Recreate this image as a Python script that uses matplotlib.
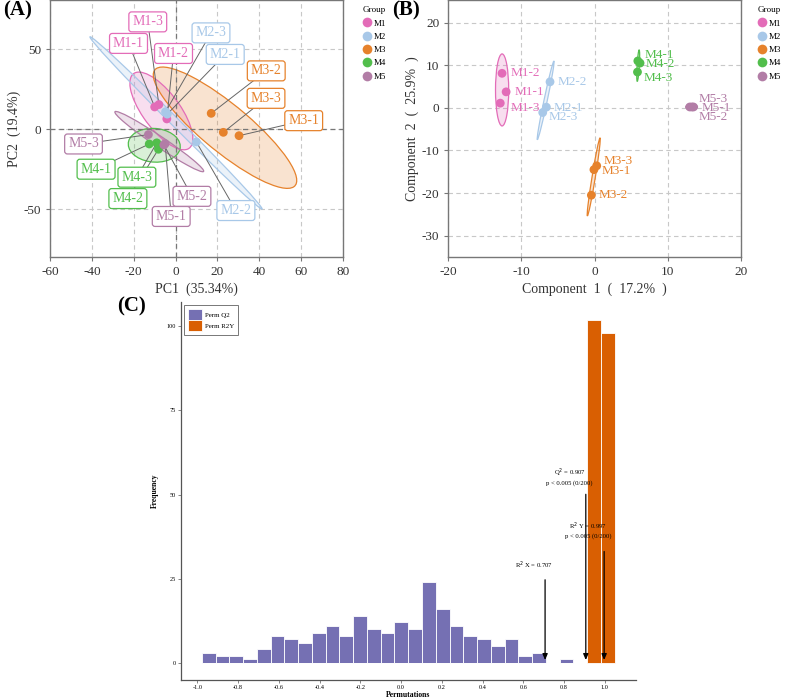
import numpy as np
import matplotlib
matplotlib.use("Agg")
import matplotlib.pyplot as plt
from matplotlib.patches import Ellipse
from matplotlib.lines import Line2D

plt.rcParams['font.family'] = ['Liberation Serif', 'DejaVu Serif']
plt.rcParams['axes.unicode_minus'] = False

groups = ['M1', 'M2', 'M3', 'M4', 'M5']
colors = ['#E36CB8', '#A8C8E8', '#E6822C', '#52BE4C', '#B27DA6']

# ---- panel A: PCA ----
pca_names = ['M1-1', 'M1-2', 'M1-3', 'M2-1', 'M2-2', 'M2-3', 'M3-1', 'M3-2', 'M3-3',
             'M4-1', 'M4-2', 'M4-3', 'M5-1', 'M5-2', 'M5-3']
pca_x = [-10.0, -4.2, -8.0, -4.0, 9.9, -4.8, 30.3, 17.0, 22.8,
         -12.6, -8.2, -9.0, -5.0, -5.6, -13.0]
pca_y = [14.0, 6.5, 15.5, 9.5, -7.9, 11.0, -4.0, 10.0, -1.9,
         -9.2, -12.5, -8.5, -9.0, -9.8, -3.3]
pca_lab_x = [-22.5, -1.0, -13.3, 23.7, 28.8, 16.9, 61.2, 43.3, 43.2,
             -38.0, -22.8, -18.5, -2.1, 7.8, -44.0]
pca_lab_y = [53.8, 47.5, 67.3, 46.9, -50.9, 60.4, 5.4, 36.6, 19.4,
             -25.0, -43.4, -30.0, -54.6, -42.0, -9.2]
# ellipse: centre x, centre y, major, minor, angle (data units)
pca_ell_cx = [-6.8, 0.2, 23.6, -10.2, -7.8]
pca_ell_cy = [11.5, 4.0, 1.0, -10.0, -7.7]
pca_ell_w = [54.0, 135.6, 99.0, 25.0, 56.5]
pca_ell_h = [19.0, 4.5, 26.0, 21.0, 6.0]
pca_ell_a = [-62.5, -52.7, -48.4, -12.0, -41.6]

# ---- panel B: PLS-DA ----
pls_x = [-12.1, -12.66, -12.9, -6.6, -6.1, -7.1, -0.1, -0.45, 0.28,
         5.9, 6.2, 5.85, 13.3, 13.5, 13.0]
pls_y = [3.75, 8.1, 1.1, 0.16, 6.1, -1.1, -14.5, -20.5, -13.6,
         11.0, 10.5, 8.4, 0.2, 0.2, 0.2]
pls_lab_x = [-11.0, -11.5, -11.5, -5.6, -5.1, -6.3, 0.9, 0.6, 1.25,
             6.8, 7.0, 6.65, 14.6, 14.2, 14.2]
pls_lab_y = [3.75, 8.1, 0.0, 0.0, 6.1, -2.2, -14.9, -20.5, -12.4,
             12.4, 10.2, 6.9, 0.0, -2.1, 2.1]
pls_ell_cx = [-12.65, -6.7, -0.13, 5.95, 13.25]
pls_ell_cy = [4.2, 1.75, -16.2, 9.9, 0.2]
pls_ell_w = [16.9, 18.6, 18.4, 7.4, 1.6]
pls_ell_h = [1.8, 0.45, 0.45, 0.3, 1.4]
pls_ell_a = [90.0, 83.0, 84.6, 88.0, 0.0]

# ---- panel C: permutation test ----
q2_counts = [3, 2, 2, 1, 4, 8, 7, 6, 9, 11, 8, 14, 10, 9, 12,
             10, 24, 16, 11, 8, 7, 5, 7, 2, 3, 0, 1, 0, 0, 0]
r2y_counts = [0] * 28 + [102, 98]
hist_lo, hist_hi = -0.979, 1.049
r2x_val, q2_val, r2y_val = 0.707, 0.907, 0.997

fig = plt.figure(figsize=(7.89, 6.98), dpi=100)


def group_of(name):
    return groups.index(name.split('-')[0])


def style_pc(ax):
    ax.grid(True, color='#c8c8c8', linestyle=(0, (4, 3)), linewidth=0.8)
    ax.set_axisbelow(True)
    for s in ax.spines.values():
        s.set_color('#777777')
        s.set_linewidth(1.0)
    ax.tick_params(colors='#333333', labelsize=9.5, length=3, color='#777777')


# Panel A
axA = fig.add_axes([0.0634, 0.6318, 0.3714, 0.3682])
style_pc(axA)
for i, g in enumerate(groups):
    axA.add_patch(Ellipse((pca_ell_cx[i], pca_ell_cy[i]), pca_ell_w[i], pca_ell_h[i],
                          angle=pca_ell_a[i], facecolor=colors[i], alpha=0.22,
                          edgecolor='none', zorder=1))
    axA.add_patch(Ellipse((pca_ell_cx[i], pca_ell_cy[i]), pca_ell_w[i], pca_ell_h[i],
                          angle=pca_ell_a[i], facecolor='none', edgecolor=colors[i],
                          linewidth=0.9, zorder=1.1))
axA.axhline(0, color='#777777', linestyle=(0, (4, 3)), linewidth=0.9, zorder=1.5)
axA.axvline(0, color='#777777', linestyle=(0, (4, 3)), linewidth=0.9, zorder=1.5)
for n, x, y, lx, ly in zip(pca_names, pca_x, pca_y, pca_lab_x, pca_lab_y):
    c = colors[group_of(n)]
    axA.plot([x, lx], [y, ly], color='#666666', linewidth=0.7, zorder=2)
    axA.scatter([x], [y], s=40, color=c, zorder=3, edgecolor='none')
    axA.text(lx, ly, n, color=c, fontsize=10, ha='center', va='center', zorder=4,
             bbox=dict(boxstyle='round,pad=0.25,rounding_size=0.2', facecolor='white',
                       edgecolor=c, linewidth=0.9))
axA.set_xlim(-60, 80)
axA.set_ylim(-80, 81)
axA.set_xticks([-60, -40, -20, 0, 20, 40, 60, 80])
axA.set_yticks([-50, 0, 50])
axA.set_xlabel('PC1  (35.34%)', fontsize=10, color='#333333', labelpad=3)
axA.set_ylabel('PC2  (19.4%)', fontsize=10, color='#333333', labelpad=2)

# Panel B
axB = fig.add_axes([0.5682, 0.6318, 0.371, 0.3682])
style_pc(axB)
for i, g in enumerate(groups):
    axB.add_patch(Ellipse((pls_ell_cx[i], pls_ell_cy[i]), pls_ell_w[i], pls_ell_h[i],
                          angle=pls_ell_a[i], facecolor=colors[i], alpha=0.22,
                          edgecolor='none', zorder=1))
    axB.add_patch(Ellipse((pls_ell_cx[i], pls_ell_cy[i]), pls_ell_w[i], pls_ell_h[i],
                          angle=pls_ell_a[i], facecolor='none', edgecolor=colors[i],
                          linewidth=0.9, zorder=1.1))
for n, x, y, lx, ly in zip(pca_names, pls_x, pls_y, pls_lab_x, pls_lab_y):
    c = colors[group_of(n)]
    axB.scatter([x], [y], s=40, color=c, zorder=3, edgecolor='none')
    axB.text(lx, ly, n, color=c, fontsize=9.5, ha='left', va='center', zorder=4)
axB.set_xlim(-20, 20)
axB.set_ylim(-35, 25.3)
axB.set_xticks([-20, -10, 0, 10, 20])
axB.set_yticks([-30, -20, -10, 0, 10, 20])
axB.set_xlabel('Component  1  (  17.2%  )', fontsize=10, color='#333333', labelpad=3)
axB.set_ylabel('Component  2  (  25.9%  )', fontsize=10, color='#333333', labelpad=2)

# group legends
handles = [Line2D([], [], marker='o', linestyle='none', markersize=7,
                  markerfacecolor=c, markeredgecolor='none', label=g)
           for g, c in zip(groups, colors)]
for x0 in (0.452, 0.952):
    lg = fig.legend(handles=handles, title='Group', loc='upper left',
                    bbox_to_anchor=(x0, 1.0), frameon=False, fontsize=6.5,
                    title_fontsize=6.5, handletextpad=0.2, labelspacing=0.55,
                    handlelength=1.0, borderpad=0.2)
    lg._legend_box.align = 'left'

# Panel C
axC = fig.add_axes([0.2294, 0.0258, 0.5763, 0.5415])
edges = np.linspace(hist_lo, hist_hi, len(q2_counts) + 1)
lefts = edges[:-1]
wid = edges[1] - edges[0]
axC.bar(lefts, q2_counts, width=wid, align='edge', color='#7570B3',
        edgecolor='white', linewidth=0.6, label='Perm Q2')
axC.bar(lefts, r2y_counts, width=wid, align='edge', color='#D95F02',
        edgecolor='white', linewidth=0.6, label='Perm R2Y')
arr = dict(arrowstyle='-|>,head_length=0.35,head_width=0.15', color='black', linewidth=0.9)
axC.annotate('', xy=(r2x_val, 0), xytext=(r2x_val, 25.5), arrowprops=arr)
axC.annotate('', xy=(q2_val, 0), xytext=(q2_val, 50.9), arrowprops=arr)
axC.annotate('', xy=(r2y_val, 0), xytext=(r2y_val, 33.9), arrowprops=arr)
axC.text(0.652, 28.9, 'R$^2$ X = 0.707', fontsize=4.8, ha='center', va='center')
axC.text(0.828, 56.4, 'Q$^2$ = 0.907', fontsize=4.8, ha='center', va='center')
axC.text(0.828, 53.5, 'p < 0.005 (0/200)', fontsize=4.8, ha='center', va='center')
axC.text(0.918, 40.5, 'R$^2$ Y = 0.997', fontsize=4.8, ha='center', va='center')
axC.text(0.918, 37.6, 'p < 0.005 (0/200)', fontsize=4.8, ha='center', va='center')
axC.set_xlim(-1.081, 1.152)
axC.set_ylim(-5.1, 107.2)
axC.set_xticks([-1.0, -0.8, -0.6, -0.4, -0.2, 0.0, 0.2, 0.4, 0.6, 0.8, 1.0])
axC.set_yticks([0, 25, 50, 75, 100])
for s in ('top', 'right'):
    axC.spines[s].set_visible(False)
for s in ('left', 'bottom'):
    axC.spines[s].set_color('#555555')
    axC.spines[s].set_linewidth(0.9)
axC.tick_params(labelsize=4.5, length=2, width=0.5, color='#555555', pad=1.5)
axC.set_xlabel('Permutations', fontsize=5.5, fontweight='bold', labelpad=0.5)
axC.set_ylabel('Frequency', fontsize=5.5, fontweight='bold', labelpad=6)
lc = axC.legend(loc='upper left', bbox_to_anchor=(0.0, 1.0), fontsize=5,
                frameon=True, fancybox=False, edgecolor='#555555',
                handlelength=2.0, handleheight=2.0, handletextpad=0.5, borderpad=0.5,
                labelspacing=0.1)
lc.get_frame().set_linewidth(0.7)

# panel letters
fig.text(0.004, 0.999, '(A)', fontsize=15, fontweight='bold', va='top', ha='left')
fig.text(0.497, 0.999, '(B)', fontsize=15, fontweight='bold', va='top', ha='left')
fig.text(0.149, 0.575, '(C)', fontsize=15, fontweight='bold', va='top', ha='left')

fig.savefig('out.png', dpi=100)
